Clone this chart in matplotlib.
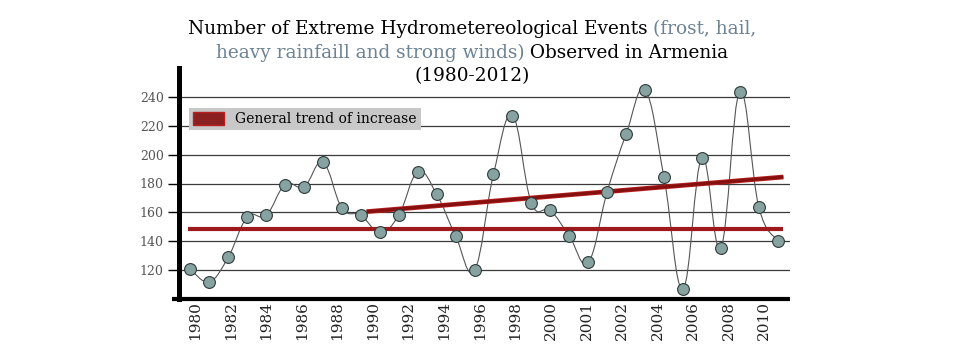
import numpy as np
import matplotlib
matplotlib.use("Agg")
import matplotlib.pyplot as plt
from matplotlib.path import Path
from matplotlib.patches import PathPatch, Patch
from matplotlib.offsetbox import TextArea, HPacker, VPacker, AnnotationBbox
import matplotlib.patheffects as pe

plt.rcParams["font.family"] = "DejaVu Serif"

# yearly counts (32 markers)
events = [120.7, 112, 129, 156.7, 158, 179.3, 177.7, 194.6, 163, 158, 146.3, 158,
          188, 172.6, 143.6, 120, 186.5, 227, 166.6, 161.3, 143.6, 125.4, 174.3,
          214.2, 244.6, 184.2, 107, 197.8, 135.5, 243.5, 163.9, 140.3]
year_labels = ["1980", "1982", "1984", "1986", "1988", "1990", "1992", "1994",
               "1996", "1998", "2000", "2001", "2002", "2004", "2006", "2008", "2010"]
yticks = [120, 140, 160, 180, 200, 220, 240]
# flat reference level and the "general trend" line (x in marker index units)
flat_x, flat_y = [-0.1, 31.3], [148.5, 148.5]
trend_x, trend_y = [9.3, 31.3], [160.5, 184.5]

fig = plt.figure(figsize=(9.6, 3.64), dpi=100)
ax = fig.add_axes([179 / 960, 65 / 364, 611 / 960, 231 / 364])

x = np.arange(len(events))
y = np.array(events, dtype=float)

# smooth connecting line (catmull-rom -> cubic bezier, like a spreadsheet "smoothed line")
pts = np.column_stack([x, y])
verts = [tuple(pts[0])]
codes = [Path.MOVETO]
for i in range(len(pts) - 1):
    p0 = pts[max(i - 1, 0)]
    p1, p2 = pts[i], pts[i + 1]
    p3 = pts[min(i + 2, len(pts) - 1)]
    c1 = p1 + (p2 - p0) / 5
    c2 = p2 - (p3 - p1) / 5
    verts += [tuple(c1), tuple(c2), tuple(p2)]
    codes += [Path.CURVE4] * 3
ax.add_patch(PathPatch(Path(verts, codes), fill=False, edgecolor="#555555", lw=0.8, zorder=3))

ax.plot(flat_x, flat_y, color="#9e1a1a", lw=3, solid_capstyle="butt", zorder=4)
ax.plot(trend_x, trend_y, color="#86100f", lw=2.2, solid_capstyle="butt", zorder=4,
        path_effects=[pe.Stroke(linewidth=3.4, foreground="#b81e1e"), pe.Normal()])

ax.plot(x, y, "o", ms=8.5, mfc="#87a3a1", mec="#2e3a3a", mew=0.8, zorder=5)

ax.set_xlim(-0.6, 31.65)
ax.set_ylim(100, 260)
ax.set_yticks(yticks)
ax.set_xticks(np.linspace(0.25, 30.3, len(year_labels)), year_labels, rotation=90)
ax.tick_params(axis="x", length=0, pad=1.5, labelsize=11, labelcolor="#222222")
ax.tick_params(axis="y", length=8, width=1, pad=3, labelsize=9, labelcolor="#555555")
ax.yaxis.grid(True, color="#3a3a3a", lw=0.9)
ax.set_axisbelow(True)

for s in ("top", "right", "bottom"):
    ax.spines[s].set_visible(False)
ax.spines["left"].set_linewidth(3.6)
ax.plot([-0.012, 1.0], [0, 0], transform=ax.transAxes, color="black", lw=3,
        solid_capstyle="butt", clip_on=False, zorder=6)

leg = ax.legend(handles=[Patch(facecolor="#8b2020", edgecolor="#b82020", lw=1,
                               label="General trend of increase")],
                loc="upper left", bbox_to_anchor=(10 / 611, 1 - 40 / 231), borderaxespad=0,
                fontsize=10, handlelength=2.2, handleheight=1.0, handletextpad=0.8,
                borderpad=0.3, fancybox=False, framealpha=1, facecolor="#c8c8c8",
                edgecolor="none")

# three-line title with part of it in slate blue
tsize = 13.3
blue = "#6c8394"
def piece(s, c):
    return TextArea(s, textprops=dict(color=c, fontsize=tsize))
line1 = HPacker(children=[piece("Number of Extreme Hydrometereological Events ", "black"),
                          piece("(frost, hail,", blue)], align="baseline", pad=0, sep=0)
line2 = HPacker(children=[piece("heavy rainfaill and strong winds)", blue),
                          piece(" Observed in Armenia", "black")], align="baseline", pad=0, sep=0)
line3 = HPacker(children=[piece("(1980-2012)", "black")], align="baseline", pad=0, sep=0)
title = VPacker(children=[line1, line2, line3], align="center", pad=0, sep=4)
ab = AnnotationBbox(title, (472 / 960, 1 - 20 / 364), xycoords="figure fraction",
                    box_alignment=(0.5, 1), frameon=False, annotation_clip=False)
ax.add_artist(ab)

fig.savefig("out.png", dpi=100)
